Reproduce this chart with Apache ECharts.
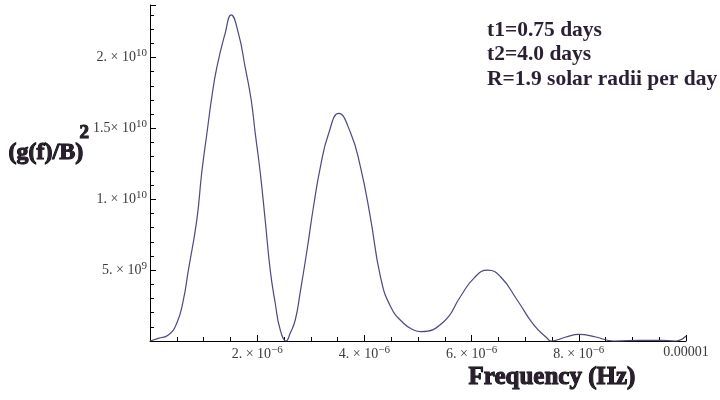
<!DOCTYPE html>
<html>
<head>
<meta charset="utf-8">
<script src="https://cdn.jsdelivr.net/npm/echarts@6/dist/echarts.min.js"></script>
<style>html,body{margin:0;padding:0;background:#fff}#c{width:720px;height:400px}</style>
</head>
<body>
<div id="c"></div>
<script>
// Frequency (Hz)
var freq = [0, 0.155e-6, 0.342e-6, 0.499e-6, 0.622e-6, 0.716e-6, 0.873e-6, 0.966e-6, 1.06e-6, 1.153e-6,
  1.247e-6, 1.402e-6, 1.514e-6, 1.65e-6, 1.776e-6, 1.888e-6, 1.962e-6, 2.056e-6, 2.149e-6, 2.243e-6,
  2.336e-6, 2.43e-6, 2.54e-6, 2.617e-6, 2.71e-6, 2.80e-6, 2.93e-6, 3.05e-6, 3.18e-6, 3.33e-6,
  3.52e-6, 3.74e-6, 3.925e-6, 4.11e-6, 4.30e-6, 4.49e-6, 4.73e-6, 4.92e-6, 5.05e-6, 5.48e-6,
  5.79e-6, 6.04e-6, 6.30e-6, 6.54e-6, 6.85e-6, 7.16e-6, 7.41e-6, 7.48e-6, 7.76e-6, 8.0e-6,
  8.32e-6, 8.65e-6, 9.16e-6, 9.53e-6, 9.81e-6, 10.0e-6];
// (g(f)/B)^2
var power = [0, 0.19e9, 0.42e9, 1.25e9, 2.89e9, 5.0e9, 8.53e9, 11.9e9, 14.6e9, 17.2e9,
  19.3e9, 21.7e9, 23.0e9, 21.7e9, 19.3e9, 17.0e9, 14.7e9, 11.9e9, 8.53e9, 5.0e9,
  2.68e9, 0.78e9, 0, 0.56e9, 1.48e9, 3.38e9, 6.42e9, 9.47e9, 12.3e9, 14.6e9,
  16.05e9, 14.7e9, 12.3e9, 8.76e9, 4.53e9, 2.42e9, 1.25e9, 0.78e9, 0.66e9, 1.36e9,
  3.12e9, 4.42e9, 5.0e9, 4.53e9, 2.89e9, 1.13e9, 0.19e9, 0, 0.28e9, 0.47e9,
  0.28e9, 0, 0.04e9, 0.04e9, 0, 0.35e9];
var xTicks = [2e-6, 4e-6, 6e-6, 8e-6, 1e-5];
var yTicks = [5e9, 1e10, 1.5e10, 2e10];
var notes = ['t1=0.75 days', 't2=4.0 days', 'R=1.9 solar radii per day'];

var serif = '"Liberation Serif", "DejaVu Serif", serif';
var data = freq.map(function (f, i) { return [f, power[i]]; });

function near(v, list) {
  for (var i = 0; i < list.length; i++) if (Math.abs(v - list[i]) < Math.abs(list[i]) * 1e-6) return list[i];
  return null;
}
function xFmt(v) {
  var t = near(v, xTicks);
  if (t === null) return '';
  if (t === 1e-5) return '{b|0.00001}';
  var m = Math.round(t / 1e-6);
  return '{b|' + m + '. \u00d7 10}{s|\u22126}';
}
function yFmt(v) {
  var t = near(v, yTicks);
  if (t === null) return '';
  var e = Math.floor(Math.log10(t) + 1e-9);
  var m = t / Math.pow(10, e);
  var ms = (Math.abs(m - Math.round(m)) < 1e-9) ? (Math.round(m) + '. ') : String(m);
  return '{b|' + ms + '\u00d7 10}{s|' + e + '}';
}
var rich = {
  b: { fontFamily: serif, fontSize: 14, color: '#3a3a3a' },
  s: { fontFamily: serif, fontSize: 11, color: '#3a3a3a', padding: [0, 0, 8, 0] }
};

var chart = echarts.init(document.getElementById('c'), null, { renderer: 'canvas' });
chart.setOption({
  animation: false,
  backgroundColor: '#fff',
  grid: { left: 150, right: 34, top: 5, bottom: 59, containLabel: false },
  xAxis: {
    type: 'value', min: 0, max: 1e-5, interval: 2e-6,
    axisLine: { show: true, onZero: false, lineStyle: { color: '#000', width: 1 } },
    axisTick: { show: true, inside: true, length: 6, lineStyle: { color: '#000' } },
    minorTick: { show: true, splitNumber: 4, length: 4, lineStyle: { color: '#000' } },
    splitLine: { show: false },
    axisLabel: { formatter: xFmt, rich: rich, margin: 4, showMinLabel: false }
  },
  yAxis: {
    type: 'value', min: 0, max: 2.37e10, interval: 5e9,
    axisLine: { show: true, onZero: false, lineStyle: { color: '#000', width: 1 } },
    axisTick: { show: true, inside: true, length: 6, lineStyle: { color: '#000' } },
    minorTick: { show: true, splitNumber: 5, length: 4, lineStyle: { color: '#000' } },
    splitLine: { show: false },
    axisLabel: { formatter: yFmt, rich: rich, margin: 3, showMinLabel: false, showMaxLabel: false }
  },
  series: [{
    type: 'line', data: data, showSymbol: false, smooth: 0.5,
    lineStyle: { color: '#4a4a80', width: 1.2 }, clip: false
  }],
  graphic: [
    {
      type: 'text', left: 8, top: 140,
      style: { text: '(g(f)/B)', font: 'bold 24px ' + serif, fill: '#2a1f2f' }
    },
    {
      type: 'text', left: 79, top: 123,
      style: { text: '2', font: 'bold 19px ' + serif, fill: '#2a1f2f' }
    },
    {
      type: 'text', left: 468, top: 365,
      style: { text: 'Frequency (Hz)', font: 'bold 25px ' + serif, fill: '#2a1f2f' }
    },
    {
      type: 'text', left: 487, top: 18,
      style: { text: notes.join('\n'), font: 'bold 21.5px ' + serif, lineHeight: 24.5, fill: '#2a1f33' }
    }
  ]
});

// small axis overhangs beyond the origin and the last tick
var o = chart.convertToPixel({ gridIndex: 0 }, [0, 0]);
var e = chart.convertToPixel({ gridIndex: 0 }, [1e-5, 0]);
chart.setOption({
  graphic: [
    { type: 'line', shape: { x1: o[0] - 12, y1: o[1], x2: o[0], y2: o[1] }, style: { stroke: '#000', lineWidth: 1 } },
    { type: 'line', shape: { x1: e[0], y1: e[1], x2: e[0] + 11, y2: e[1] }, style: { stroke: '#000', lineWidth: 1 } },
    { type: 'line', shape: { x1: o[0], y1: o[1], x2: o[0], y2: o[1] + 9 }, style: { stroke: '#000', lineWidth: 1 } }
  ]
}, { replaceMerge: [] });
</script>
</body>
</html>
